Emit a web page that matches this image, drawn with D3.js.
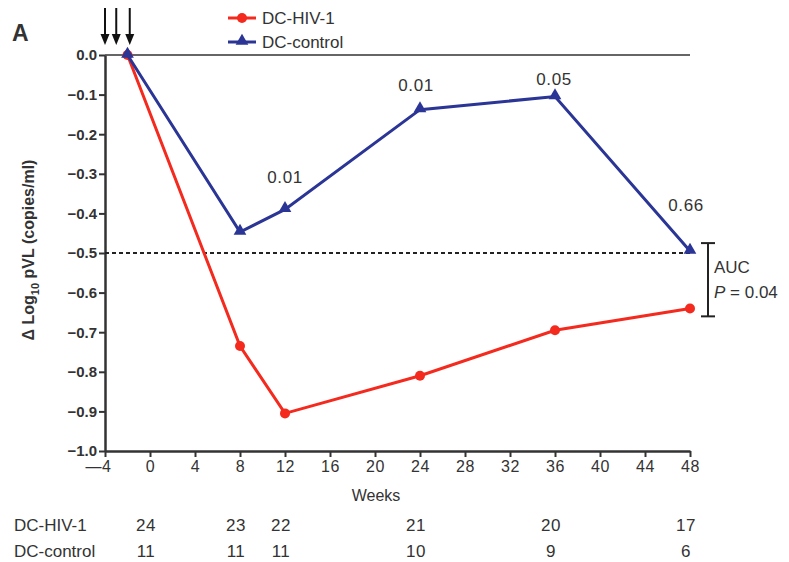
<!DOCTYPE html>
<html>
<head>
<meta charset="utf-8">
<script src="https://d3js.org/d3.v7.min.js"></script>
<style>
  body { margin: 0; background: #fff; }
  text { font-family: "Liberation Sans", Arial, sans-serif; fill: #333; }
</style>
</head>
<body>
<script>
var W = 789, H = 562;

// weeks and mean change in log10 plasma viral load
var weeks = [-2, 8, 12, 24, 36, 48];
var hivVals = [0, -0.735, -0.905, -0.81, -0.695, -0.64];
var ctrlVals = [0, -0.447, -0.39, -0.138, -0.105, -0.495];

// p values above the control line (week, value)
var pWeeks = [12, 24, 36, 48];
var pLabels = ["0.01", "0.01", "0.05", "0.66"];

// patients at each visit
var countWeeks = [0, 8, 12, 24, 36, 48];
var hivCounts = [24, 23, 22, 21, 20, 17];
var ctrlCounts = [11, 11, 11, 10, 9, 6];

var xTicks = d3.range(-4, 49, 4);
var yTicks = d3.range(0, -1.01, -0.1);
var arrowWeeks = [-4, -3, -1.8];

var svg = d3.select("body").append("svg")
  .attr("width", W).attr("height", H);

var x = d3.scaleLinear().domain([-4, 48]).range([105, 690]);
var y = d3.scaleLinear().domain([0, -1]).range([55, 451]);

function dash(s) { return s.replace("-", "\u2014"); }

// y axis
var yAxis = svg.append("g").attr("transform", "translate(105,0)")
  .call(d3.axisLeft(y).tickValues(yTicks).tickSize(6).tickSizeOuter(0)
    .tickFormat(function(d) { return dash(d3.format(".1f")(d)); }));
// x axis
var xAxis = svg.append("g").attr("transform", "translate(0,451)")
  .call(d3.axisBottom(x).tickValues(xTicks).tickSize(6).tickSizeOuter(0)
    .tickFormat(function(d) { return dash(String(d)); }));

[yAxis, xAxis].forEach(function(a) {
  a.select(".domain").attr("stroke", "#333").attr("stroke-width", 2.5);
  a.selectAll(".tick line").attr("stroke", "#333").attr("stroke-width", 2);
  a.selectAll("text").attr("font-size", 15).attr("font-weight", "bold")
    .attr("font-family", "Liberation Sans, Arial, sans-serif").attr("fill", "#444");
});
yAxis.selectAll("text").attr("x", -8);
xAxis.selectAll("text").attr("y", 10).attr("font-weight", "normal")
  .attr("font-size", 16).attr("letter-spacing", 0.5);
xAxis.selectAll(".tick").filter(function(d) { return d === -4; })
  .select("text").attr("text-anchor", "end").attr("dx", 6);

// reference lines
svg.append("line").attr("x1", x(-4)).attr("x2", x(48))
  .attr("y1", y(0)).attr("y2", y(0)).attr("stroke", "#333").attr("stroke-width", 1.5);
svg.append("line").attr("x1", x(-4)).attr("x2", x(48))
  .attr("y1", y(-0.5)).attr("y2", y(-0.5)).attr("stroke", "#222")
  .attr("stroke-width", 2).attr("stroke-dasharray", "4,3");

var line = d3.line().x(function(d) { return x(d[0]); }).y(function(d) { return y(d[1]); });
var hivData = weeks.map(function(w, i) { return [w, hivVals[i]]; });
var ctrlData = weeks.map(function(w, i) { return [w, ctrlVals[i]]; });

var red = "#f42a1e", blue = "#2a3596";

svg.append("path").datum(hivData).attr("d", line)
  .attr("fill", "none").attr("stroke", red).attr("stroke-width", 3);
svg.selectAll(".hivpt").data(hivData).enter().append("circle")
  .attr("cx", function(d) { return x(d[0]); }).attr("cy", function(d) { return y(d[1]); })
  .attr("r", 5).attr("fill", red);

svg.append("path").datum(ctrlData).attr("d", line)
  .attr("fill", "none").attr("stroke", blue).attr("stroke-width", 3);
var tri = d3.symbol().type(d3.symbolTriangle).size(70);
svg.selectAll(".ctrlpt").data(ctrlData).enter().append("path")
  .attr("d", tri)
  .attr("transform", function(d) { return "translate(" + x(d[0]) + "," + (y(d[1]) - 1) + ")"; })
  .attr("fill", blue);

// p values
var pOffsets = [[0, -26], [-4, -19], [-1, -12], [-4, -40]];
svg.selectAll(".pval").data(pWeeks).enter().append("text")
  .attr("x", function(d, i) { return x(d) + pOffsets[i][0]; })
  .attr("y", function(d, i) {
    return y(ctrlVals[weeks.indexOf(d)]) + pOffsets[i][1];
  })
  .attr("text-anchor", "middle").attr("font-size", 17).attr("letter-spacing", 0.6)
  .text(function(d, i) { return pLabels[i]; });

// AUC bracket
var bx = 708;
var bTop = y(-0.475), bBot = y(-0.66);
svg.append("line").attr("x1", bx).attr("x2", bx).attr("y1", bTop).attr("y2", bBot)
  .attr("stroke", "#222").attr("stroke-width", 2);
[bTop, bBot].forEach(function(v) {
  svg.append("line").attr("x1", bx - 7).attr("x2", bx + 7).attr("y1", v).attr("y2", v)
    .attr("stroke", "#222").attr("stroke-width", 2);
});
svg.append("text").attr("x", 714).attr("y", 273).attr("font-size", 17).text("AUC");
var pt = svg.append("text").attr("x", 714).attr("y", 298).attr("font-size", 17);
pt.append("tspan").attr("font-style", "italic").text("P");
pt.append("tspan").text(" = 0.04");

// injection arrows
arrowWeeks.forEach(function(w) {
  var ax = x(w);
  svg.append("line").attr("x1", ax).attr("x2", ax).attr("y1", 8).attr("y2", 38)
    .attr("stroke", "#111").attr("stroke-width", 2);
  svg.append("path")
    .attr("d", "M" + (ax - 4.5) + ",34 L" + (ax + 4.5) + ",34 L" + ax + ",45 Z")
    .attr("fill", "#111");
});

// panel letter
svg.append("text").attr("x", 12).attr("y", 41).attr("font-size", 23)
  .attr("font-weight", "bold").attr("fill", "#222").text("A");

// legend
var lg = svg.append("g");
[[red, "DC-HIV-1", "circle"], [blue, "DC-control", "tri"]].forEach(function(d, i) {
  var ly = 18 + i * 24;
  lg.append("line").attr("x1", 228).attr("x2", 256).attr("y1", ly).attr("y2", ly)
    .attr("stroke", d[0]).attr("stroke-width", 3);
  if (d[2] === "circle") {
    lg.append("circle").attr("cx", 242).attr("cy", ly).attr("r", 5).attr("fill", d[0]);
  } else {
    lg.append("path").attr("d", tri).attr("transform", "translate(242," + (ly - 1) + ")")
      .attr("fill", d[0]);
  }
  lg.append("text").attr("x", 262).attr("y", ly + 6).attr("font-size", 17).text(d[1]);
});

// y axis title
svg.append("text")
  .attr("transform", "translate(34,250) rotate(-90)")
  .attr("text-anchor", "middle").attr("font-size", 16).attr("font-weight", "bold")
  .attr("fill", "#444")
  .call(function(t) {
    t.append("tspan").text("\u0394 Log");
    t.append("tspan").attr("font-size", 11).attr("dy", 5).text("10");
    t.append("tspan").attr("dy", -5).text(" pVL (copies/ml)");
  });

// x axis title
svg.append("text").attr("x", 376).attr("y", 501).attr("text-anchor", "middle")
  .attr("font-size", 16).text("Weeks");

// counts table
svg.append("text").attr("x", 14).attr("y", 531).attr("font-size", 17).text("DC-HIV-1");
svg.append("text").attr("x", 14).attr("y", 557).attr("font-size", 17).text("DC-control");
svg.selectAll(".hc").data(hivCounts).enter().append("text")
  .attr("x", function(d, i) { return x(countWeeks[i]) - 4; }).attr("y", 531)
  .attr("text-anchor", "middle").attr("font-size", 17).attr("letter-spacing", 0.5)
  .text(function(d) { return d; });
svg.selectAll(".cc").data(ctrlCounts).enter().append("text")
  .attr("x", function(d, i) { return x(countWeeks[i]) - 4; }).attr("y", 557)
  .attr("text-anchor", "middle").attr("font-size", 17).attr("letter-spacing", 0.5)
  .text(function(d) { return d; });
</script>
</body>
</html>
